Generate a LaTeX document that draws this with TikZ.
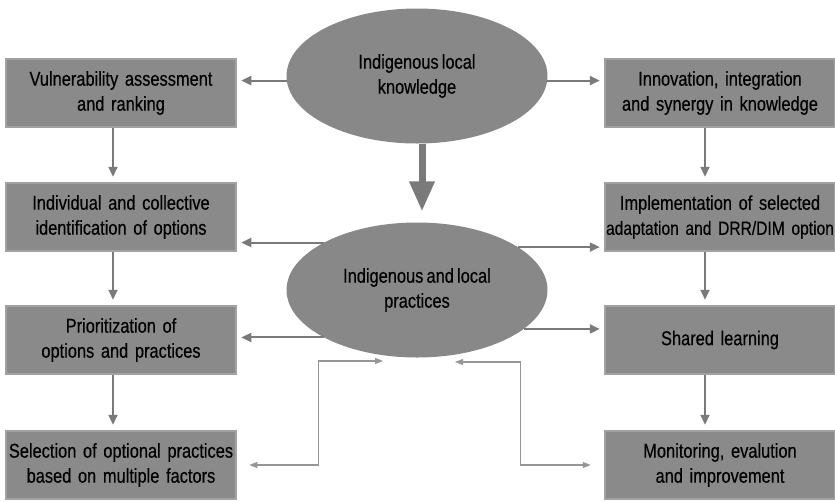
\documentclass[tikz,border=0pt]{standalone}
\usepackage{fontspec}
\setmainfont{Liberation Sans}[FakeStretch=0.82,WordSpace=0.7,FakeBold=0.4]
\usetikzlibrary{shapes.geometric,arrows.meta}
\definecolor{boxfill}{RGB}{138,138,138}
\definecolor{boxrim}{RGB}{162,162,162}
\definecolor{hubfill}{RGB}{136,136,136}
\definecolor{linegray}{RGB}{122,122,122}
\definecolor{fbgray}{RGB}{150,150,150}
\tikzset{
  stepbox/.style={rectangle, fill=boxfill, draw=boxrim, line width=2.5pt,
    minimum width=230pt, minimum height=68pt, text width=230pt, inner sep=0pt,
    align=center, font=\fontsize{20}{25}\selectfont},
  hub/.style={ellipse, fill=hubfill, minimum width=261pt, minimum height=135pt,
    inner sep=0pt, align=center, font=\fontsize{20}{25}\selectfont},
  arr/.style={draw=linegray, line width=2pt, -{Triangle[length=10pt,width=9pt]}},
  bigarr/.style={draw=linegray, line width=7pt, -{Triangle[length=30pt,width=24pt]}},
  fb/.style={draw=fbgray, line width=1.2pt,
    {Triangle[length=8pt,width=6pt]}-{Triangle[length=8pt,width=6pt]}}
}
\begin{document}
\begin{tikzpicture}[x=1pt,y=-1pt]
\useasboundingbox (0,0) rectangle (835,501);
\node[hub] (know) at (417,76) {Indigenous local\\knowledge};
\node[hub] (prac) at (417,290) {Indigenous and local\\practices};
\node[stepbox] (vul) at (121,93) {Vulnerability assessment\\and ranking};
\node[stepbox] (ident) at (121,217) {Individual and collective\\identification of options};
\node[stepbox] (prio) at (121,340) {Prioritization of\\options and practices};
\node[stepbox] (sel) at (121,465) {Selection of optional practices\\based on multiple factors};
\node[stepbox] (innov) at (720,93) {Innovation, integration\\and synergy in knowledge};
\node[stepbox] (impl) at (720,217) {Implementation of selected\\\makebox[230pt]{\fontsize{19}{25}\selectfont adaptation and DRR/DIM option}};
\node[stepbox] (share) at (720,340) {Shared learning};
\node[stepbox] (monit) at (720,465) {Monitoring, evalution\\and improvement};
\draw[bigarr, shorten >=11pt] ([xshift=5pt]know.south) -- ([xshift=5pt]prac.north);
\draw[arr, shorten >=4pt] (know.182) -- (know.182 -| vul.east);
\draw[arr, shorten >=4pt] (know.358) -- (know.358 -| innov.west);
\draw[arr, shorten >=4pt] (prac.153) -- (prac.153 -| ident.east);
\draw[arr, shorten >=4pt] (prac.23) -- (prac.23 -| impl.west);
\draw[arr, shorten >=4pt] (prac.207) -- (prac.207 -| prio.east);
\draw[arr, shorten >=4pt] (prac.340) -- (prac.340 -| share.west);
\draw[arr, shorten >=5pt] ([xshift=-8pt]vul.south) -- ([xshift=-8pt]ident.north);
\draw[arr, shorten >=5pt] ([xshift=-8pt]ident.south) -- ([xshift=-8pt]prio.north);
\draw[arr, shorten >=5pt] ([xshift=-8pt]prio.south) -- ([xshift=-8pt]sel.north);
\draw[arr, shorten >=5pt] ([xshift=-15pt]innov.south) -- ([xshift=-15pt]impl.north);
\draw[arr, shorten >=5pt] ([xshift=-15pt]impl.south) -- ([xshift=-15pt]share.north);
\draw[arr, shorten >=5pt] ([xshift=-15pt]share.south) -- ([xshift=-15pt]monit.north);
\coordinate (fbl) at (383,361);
\coordinate (fbr) at (455,362);
\draw[fb, shorten <=12pt] (sel.east) -- ++(81,0) |- (fbl);
\draw[fb, shorten <=13pt] (monit.west) -- ++(-83,0) |- (fbr);
\end{tikzpicture}
\end{document}
